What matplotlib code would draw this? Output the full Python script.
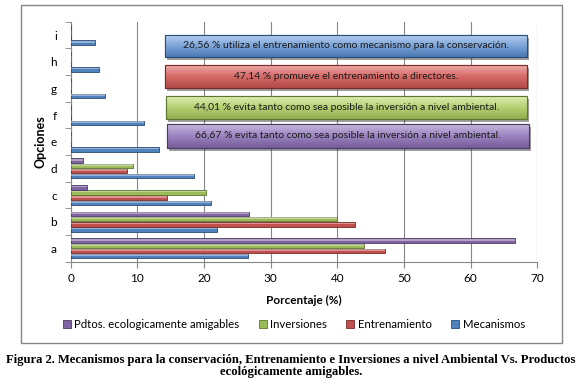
import matplotlib.pyplot as plt
import numpy as np
from matplotlib.patches import Rectangle
from matplotlib.colors import LinearSegmentedColormap

categories = ["a", "b", "c", "d", "e", "f", "g", "h", "i"]
mecanismos = [26.56, 22.0, 21.0, 18.45, 13.2, 10.95, 5.15, 4.3, 3.7]
entrenamiento = [47.14, 42.7, 14.5, 8.45, 0, 0, 0, 0, 0]
inversiones = [44.01, 40.0, 20.25, 9.3, 0, 0, 0, 0, 0]
pdtos = [66.67, 26.7, 2.5, 1.9, 0, 0, 0, 0, 0]

series_names = ["Mecanismos", "Entrenamiento", "Inversiones", "Pdtos. ecologicamente amigables"]
box_texts = ["26,56 % utiliza el entrenamiento como mecanismo para la conservación.",
             "47,14 % promueve el entrenamiento a directores.",
             "44,01 % evita tanto como sea posible la inversión a nivel ambiental.",
             "66,67 % evita tanto como sea posible la inversión a nivel ambiental."]
caption = ("Figura 2. Mecanismos para la conservación, Entrenamiento e Inversiones a nivel Ambiental Vs. Productos\n"
           "ecológicamente amigables.")

colors = ["#4F81BD", "#C0504D", "#9BBB59", "#8064A2"]
edges = ["#2C4D75", "#772C2A", "#5F7530", "#4D3B62"]
box_light = ["#B9D0EE", "#EDB0AE", "#DDEDB2", "#C9BADF"]
box_mid = ["#7EA6DA", "#D86C69", "#B5D072", "#9D86C2"]
box_dark = ["#4A78B2", "#B34A47", "#8FAE50", "#765C98"]

plt.rcParams["font.family"] = ["Lato", "DejaVu Sans"]

fig = plt.figure(figsize=(5.82, 3.80), dpi=100)
fig.patches.append(Rectangle((0.0356, 0.0974), 0.9306, 0.889, transform=fig.transFigure,
                             fill=False, edgecolor="#868686", linewidth=1.0))

ax = fig.add_axes([0.1215, 0.3113, 0.8017, 0.6316])
y = np.arange(len(categories))
offsets = [-0.29, -0.097, 0.097, 0.29]
h = 0.17
for vals, off, c, ec, name in zip([mecanismos, entrenamiento, inversiones, pdtos], offsets, colors, edges, series_names):
    ax.barh(y + off, vals, height=h, color=c, edgecolor=ec, linewidth=0.6, label=name, zorder=3)
    # light highlight on the upper part of each bar
    ax.barh(y + off + h * 0.2, vals, height=h * 0.35, color="white", alpha=0.4, linewidth=0, zorder=4)

ax.set_xlim(0, 70)
ax.set_ylim(-0.5, len(categories) - 0.5)
ax.set_xticks(np.arange(0, 71, 10))
ax.set_yticks(y)
ax.set_yticklabels(categories)
ax.set_yticks(np.arange(-0.5, len(categories), 1), minor=True)
ax.tick_params(axis="y", which="major", length=0, labelsize=8.5, pad=10, colors="#000000")
ax.tick_params(axis="y", which="minor", length=4, color="#868686")
ax.tick_params(axis="x", length=4, color="#868686", labelsize=8.5, pad=4)
ax.grid(axis="x", color="#868686", linewidth=0.8, zorder=0)
for s in ["top", "right"]:
    ax.spines[s].set_visible(False)
for s in ["left", "bottom"]:
    ax.spines[s].set_color("#868686")
ax.set_xlabel("Porcentaje (%)", fontsize=8.5, fontweight="bold", labelpad=8)
ax.set_ylabel("Opciones", fontsize=9, fontweight="bold", labelpad=3)

# annotation boxes
boxes = [(0.202, 0.853, 0.776, 0.092),
         (0.202, 0.724, 0.776, 0.096),
         (0.204, 0.595, 0.774, 0.095),
         (0.206, 0.474, 0.776, 0.100)]
grad = np.linspace(0, 1, 64).reshape(-1, 1)
for (bx, by, bw, bh), txt, lt, md, dk, ec in zip(boxes, box_texts, box_light, box_mid, box_dark, edges):
    shadow = Rectangle((bx + 0.004, by - 0.012), bw, bh, transform=ax.transAxes,
                       facecolor="#404040", alpha=0.5, linewidth=0, zorder=5)
    ax.add_patch(shadow)
    rect = Rectangle((bx, by), bw, bh, transform=ax.transAxes,
                     facecolor=md, edgecolor=ec, linewidth=0.8, zorder=6)
    ax.add_patch(rect)
    cmap = LinearSegmentedColormap.from_list("g", [lt, md, dk])
    im = ax.imshow(grad, cmap=cmap, aspect="auto", extent=(bx, bx + bw, by, by + bh),
                   transform=ax.transAxes, zorder=6.5, interpolation="bilinear")
    im.set_clip_path(rect)
    edge = Rectangle((bx, by), bw, bh, transform=ax.transAxes,
                     fill=False, edgecolor=ec, linewidth=0.8, zorder=7)
    ax.add_patch(edge)
    ax.text(bx + bw / 2, by + bh / 2, txt, transform=ax.transAxes, ha="center", va="center",
            fontsize=7.5, color="#1a1a1a", zorder=8)
ax.set_xlim(0, 70)
ax.set_ylim(-0.5, len(categories) - 0.5)
ax.set_aspect("auto")

handles, labels = ax.get_legend_handles_labels()
handles = handles[::-1]
labels = labels[::-1]
fig.legend(handles, labels, loc="center", bbox_to_anchor=(0.505, 0.147), ncol=4, frameon=False,
           fontsize=8.2, handlelength=0.7, handleheight=0.7, handletextpad=0.3, columnspacing=1.7)

fig.text(0.5, 0.038, caption, ha="center", va="center", fontsize=9.1, fontweight="bold",
         family=["Liberation Serif"], linespacing=1.0)

fig.savefig("out.png", dpi=100)
